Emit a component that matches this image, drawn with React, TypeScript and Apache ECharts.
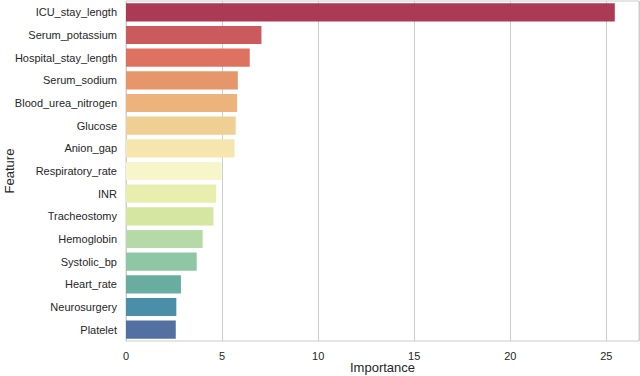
import React, { useEffect, useRef } from "react";
import * as echarts from "echarts";

const features = [
  "ICU_stay_length",
  "Serum_potassium",
  "Hospital_stay_length",
  "Serum_sodium",
  "Blood_urea_nitrogen",
  "Glucose",
  "Anion_gap",
  "Respiratory_rate",
  "INR",
  "Tracheostomy",
  "Hemoglobin",
  "Systolic_bp",
  "Heart_rate",
  "Neurosurgery",
  "Platelet",
];

const importance = [25.44, 7.05, 6.44, 5.82, 5.78, 5.71, 5.65, 4.98, 4.69, 4.55, 3.99, 3.68, 2.86, 2.62, 2.59];

const barColors = [
  "#ad3a54",
  "#cb5a5e",
  "#dd7260",
  "#e5966a",
  "#ecb37d",
  "#efcf94",
  "#f4e6ae",
  "#f7f6cb",
  "#e8efae",
  "#d4e6a2",
  "#b6d9a8",
  "#8fc6a4",
  "#68ada0",
  "#4a8ea8",
  "#5270a0",
];

const xTicks = [0, 5, 10, 15, 20, 25];

export default function App() {
  const ref = useRef<HTMLDivElement>(null);
  useEffect(() => {
    if (!ref.current) return;
    const chart = echarts.init(ref.current, null, { renderer: "svg" });
    const font = "Liberation Sans, Arial, sans-serif";
    chart.setOption({
      animation: false,
      grid: {
        left: 126,
        right: 1,
        top: 1,
        bottom: 35,
        outerBoundsMode: "none",
        containLabel: false,
        show: true,
        borderColor: "#cccccc",
        borderWidth: 1,
      },
      xAxis: {
        type: "value",
        min: 0,
        max: 26.7,
        interval: 5,
        name: "Importance",
        nameLocation: "middle",
        nameGap: 20,
        nameMoveOverlap: false,
        nameTextStyle: { fontFamily: font, fontSize: 13, color: "#262626", verticalAlign: "top" },
        axisLine: { show: false },
        axisTick: { show: false },
        axisLabel: {
          fontFamily: font,
          fontSize: 11,
          color: "#262626",
          margin: 9,
          showMaxLabel: false,
          formatter: (v: number) => (xTicks.includes(v) ? String(v) : ""),
        },
        splitLine: { show: true, lineStyle: { color: "#cccccc", width: 1 } },
      },
      yAxis: {
        type: "category",
        data: features,
        inverse: true,
        name: "Feature",
        nameLocation: "middle",
        nameGap: 110,
        nameRotate: 90,
        nameMoveOverlap: false,
        nameTextStyle: { fontFamily: font, fontSize: 13, color: "#262626" },
        axisLine: { show: false },
        axisTick: { show: false },
        axisLabel: { fontFamily: font, fontSize: 11, color: "#262626", margin: 9 },
        splitLine: { show: false },
      },
      series: [
        {
          type: "bar",
          barCategoryGap: "20%",
          data: importance.map((v, i) => ({ value: v, itemStyle: { color: barColors[i] } })),
        },
      ],
    });
    return () => chart.dispose();
  }, []);
  return (
    <div
      ref={ref}
      style={{ position: "fixed", left: 0, top: 0, width: 640, height: 376, background: "#ffffff" }}
    />
  );
}
